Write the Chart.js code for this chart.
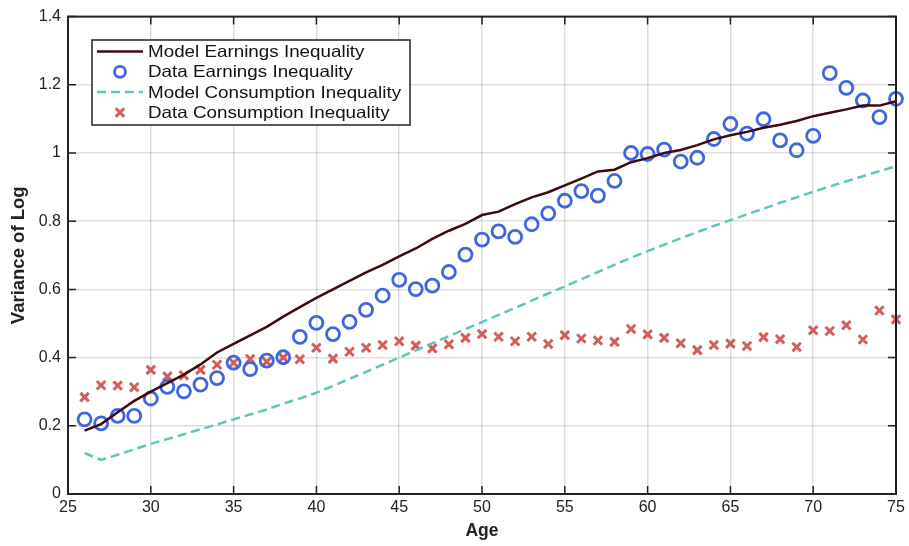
<!DOCTYPE html>
<html>
<head>
<meta charset="utf-8">
<script src="https://cdn.jsdelivr.net/npm/chart.js@4"></script>
<style>
  html, body { margin: 0; padding: 0; background: #fff; }
  #wrap { width: 909px; height: 546px; }
</style>
</head>
<body>
<div id="wrap"><canvas id="c" width="909" height="546"></canvas></div>
<script>
// ages 26..75
const AGES = [26,27,28,29,30,31,32,33,34,35,36,37,38,39,40,41,42,43,44,45,46,47,48,49,50,
              51,52,53,54,55,56,57,58,59,60,61,62,63,64,65,66,67,68,69,70,71,72,73,74,75];

const MODEL_EARN = [0.186,0.205,0.240,0.273,0.300,0.325,0.350,0.380,0.415,0.440,0.465,0.490,0.520,0.548,0.575,
                    0.600,0.625,0.650,0.672,0.697,0.720,0.748,0.772,0.792,0.818,0.828,0.850,0.870,0.885,0.905,
                    0.925,0.946,0.951,0.973,0.985,1.000,1.009,1.023,1.040,1.052,1.062,1.074,1.083,1.094,1.108,
                    1.118,1.128,1.139,1.139,1.152];

const DATA_EARN = [0.219,0.207,0.229,0.229,0.280,0.314,0.301,0.321,0.340,0.385,0.366,0.391,0.401,0.461,0.502,
                   0.469,0.505,0.540,0.582,0.628,0.601,0.611,0.651,0.702,0.746,0.770,0.754,0.791,0.823,0.860,
                   0.888,0.875,0.918,1.000,0.997,1.010,0.975,0.986,1.041,1.085,1.057,1.099,1.037,1.008,1.050,
                   1.234,1.191,1.154,1.105,1.159];

const MODEL_CONS = [0.120,0.100,0.115,0.131,0.147,0.161,0.175,0.190,0.204,0.219,0.233,0.248,0.265,0.280,0.297,
                    0.317,0.338,0.358,0.379,0.400,0.421,0.442,0.463,0.484,0.504,0.525,0.546,0.567,0.588,0.609,
                    0.630,0.651,0.672,0.693,0.712,0.731,0.750,0.768,0.786,0.803,0.820,0.837,0.854,0.870,0.886,
                    0.902,0.917,0.932,0.947,0.961];

const DATA_CONS = [0.284,0.319,0.318,0.313,0.364,0.345,0.348,0.364,0.379,0.385,0.396,0.388,0.400,0.395,0.429,
                   0.397,0.417,0.429,0.437,0.448,0.435,0.427,0.439,0.458,0.469,0.461,0.448,0.461,0.440,0.466,
                   0.456,0.450,0.446,0.484,0.468,0.458,0.442,0.422,0.437,0.441,0.434,0.460,0.454,0.431,0.480,
                   0.478,0.495,0.453,0.538,0.512];

const X_TICKS = [25,30,35,40,45,50,55,60,65,70,75];
const Y_TICKS = [0,0.2,0.4,0.6,0.8,1,1.2,1.4];

const pts = ys => ys.map((y, i) => ({ x: AGES[i], y }));
const FONT = '"Liberation Sans", Arial, sans-serif';

// matlab style box + inward ticks on all four sides
const boxPlugin = {
  id: 'box',
  afterDatasetsDraw(chart) {
    const { ctx, chartArea: a, scales: { x, y } } = chart;
    ctx.save();
    ctx.strokeStyle = '#222';
    ctx.lineWidth = 2;
    ctx.strokeRect(a.left, a.top, a.right - a.left, a.bottom - a.top);
    ctx.lineWidth = 1.5;
    ctx.beginPath();
    X_TICKS.forEach(v => {
      const px = x.getPixelForValue(v);
      ctx.moveTo(px, a.bottom); ctx.lineTo(px, a.bottom - 8);
      ctx.moveTo(px, a.top); ctx.lineTo(px, a.top + 8);
    });
    Y_TICKS.forEach(v => {
      const py = y.getPixelForValue(v);
      ctx.moveTo(a.left, py); ctx.lineTo(a.left + 8, py);
      ctx.moveTo(a.right, py); ctx.lineTo(a.right - 8, py);
    });
    ctx.stroke();
    ctx.restore();
  }
};

// legend box inside the plot, upper left
const legendPlugin = {
  id: 'boxLegend',
  afterDraw(chart) {
    const { ctx } = chart;
    const L = 92, T = 40, W = 318, H = 85, rowH = 20.3;
    ctx.save();
    ctx.fillStyle = '#fff';
    ctx.fillRect(L, T, W, H);
    ctx.strokeStyle = '#222';
    ctx.lineWidth = 1.5;
    ctx.strokeRect(L, T, W, H);
    ctx.textBaseline = 'middle';
    chart.data.datasets.forEach((ds, i) => {
      const cy = T + 11.5 + i * rowH;
      const x0 = L + 5, x1 = L + 51, cx = (x0 + x1) / 2;
      ctx.strokeStyle = ds.borderColor;
      ctx.lineWidth = ds.borderWidth;
      if (ds.showLine) {
        ctx.setLineDash(ds.borderDash || []);
        ctx.beginPath(); ctx.moveTo(x0, cy); ctx.lineTo(x1, cy); ctx.stroke();
        ctx.setLineDash([]);
      } else if (ds.pointStyle === 'circle') {
        ctx.beginPath(); ctx.arc(cx, cy, ds.pointRadius - 1, 0, Math.PI * 2); ctx.stroke();
      } else {
        const r = ds.pointRadius * 0.7;
        ctx.beginPath();
        ctx.moveTo(cx - r, cy - r); ctx.lineTo(cx + r, cy + r);
        ctx.moveTo(cx + r, cy - r); ctx.lineTo(cx - r, cy + r);
        ctx.stroke();
      }
      // text in the reference is a bit wider than Arial, stretch it
      ctx.save();
      ctx.translate(L + 56, cy + 1);
      ctx.scale(1.14, 1);
      ctx.font = '16.5px ' + FONT;
      ctx.fillStyle = '#111';
      ctx.fillText(ds.label, 0, 0);
      ctx.restore();
    });
    ctx.restore();
  }
};

new Chart(document.getElementById('c'), {
  type: 'scatter',
  data: {
    datasets: [
      { label: 'Model Earnings Inequality', data: pts(MODEL_EARN), showLine: true, clip: false,
        borderColor: '#3d0a0c', borderWidth: 2.5, pointRadius: 0, order: 1 },
      { label: 'Data Earnings Inequality', data: pts(DATA_EARN), showLine: false, clip: false,
        pointStyle: 'circle', pointRadius: 6.5, borderWidth: 2.8,
        borderColor: '#3f66e0', backgroundColor: 'rgba(0,0,0,0)', order: 2 },
      { label: 'Model Consumption Inequality', data: pts(MODEL_CONS), showLine: true, clip: false,
        borderColor: '#5cc6bc', borderWidth: 2.5, borderDash: [9, 5], pointRadius: 0, order: 3 },
      { label: 'Data Consumption Inequality', data: pts(DATA_CONS), showLine: false, clip: false,
        pointStyle: 'crossRot', pointRadius: 6, borderWidth: 3,
        borderColor: '#d45c5c', backgroundColor: '#d45c5c', order: 4 }
    ]
  },
  options: {
    responsive: false,
    animation: false,
    layout: { padding: { left: 0, right: 13, top: 12, bottom: 0 } },
    plugins: { legend: { display: false }, tooltip: { enabled: false } },
    scales: {
      x: {
        type: 'linear', min: 25, max: 75,
        afterBuildTicks: s => { s.ticks = X_TICKS.map(v => ({ value: v })); },
        afterFit: s => { s.height = 52; },
        grid: { color: 'rgba(0,0,0,0.13)', lineWidth: 1.5, drawTicks: false },
        border: { display: false },
        ticks: { color: '#222', font: { family: FONT, size: 16 }, padding: 4, callback: v => String(v) },
        title: { display: true, text: 'Age', color: '#222', font: { family: FONT, size: 17.5, weight: 'bold' }, padding: { top: 0 } }
      },
      y: {
        min: 0, max: 1.4,
        afterBuildTicks: s => { s.ticks = Y_TICKS.map(v => ({ value: v })); },
        afterFit: s => { s.width = 68; },
        grid: { color: 'rgba(0,0,0,0.13)', lineWidth: 1.5, drawTicks: false },
        border: { display: false },
        ticks: { color: '#222', font: { family: FONT, size: 16 }, padding: 7, callback: v => String(v) },
        title: { display: true, text: 'Variance of Log', color: '#222', font: { family: FONT, size: 18.5, weight: 'bold' }, padding: { top: 8, bottom: 0 } }
      }
    }
  },
  plugins: [boxPlugin, legendPlugin]
});
</script>
</body>
</html>
